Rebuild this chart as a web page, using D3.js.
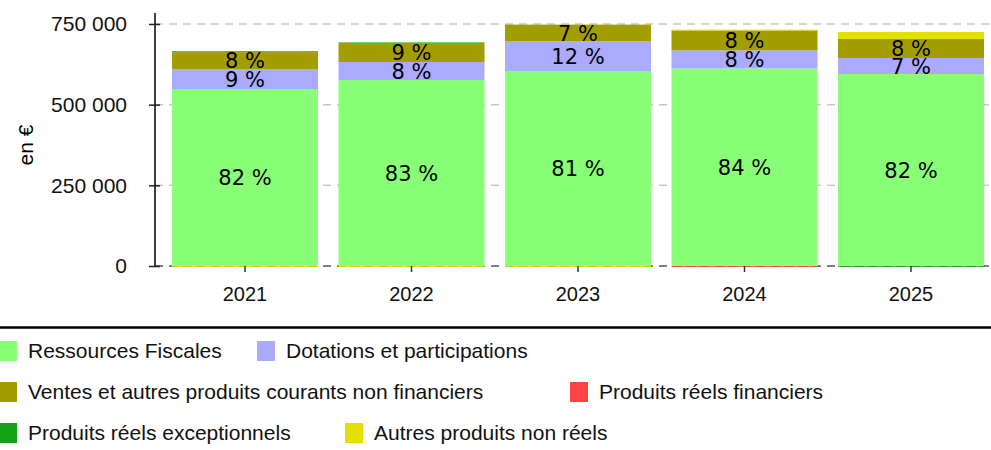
<!DOCTYPE html>
<html>
<meta charset="utf-8">
<head>
  <script src="https://d3js.org/d3.v7.min.js"></script>
</head>
<style>
  body {
    margin: 0;
    background-color: white;
    font-family: 'Liberation Sans', Arial, sans-serif;
  }
  .pct {
    font-family: 'DejaVu Sans', sans-serif;
    font-size: 21px;
  }
</style>
<body>
<script>
  // data
  var years = ["2021", "2022", "2023", "2024", "2025"];
  var series = ["Ressources Fiscales", "Dotations et participations",
    "Ventes et autres produits courants non financiers", "Produits réels financiers",
    "Produits réels exceptionnels", "Autres produits non réels"];
  var colors = ["#88ff77", "#aaaaff", "#a39e00", "#ff4444", "#14a314", "#e3e000"];

  var fiscales    = [548500, 576500, 604000, 612000, 595000];
  var dotations   = [62000, 55500, 92000, 56000, 49500];
  var ventes      = [52000, 59500, 52000, 62000, 59000];
  var financiers  = [0, 0, 0, -2500, 0];
  var exception   = [3000, 1500, 0, 0, -2500];
  var nonReels    = [-2500, -2500, -2500, 2500, 21500];
  var yTicks = [0, 250000, 500000, 750000];

  var all = [fiscales, dotations, ventes, financiers, exception, nonReels];
  var rows = years.map(function(y, i) {
    var r = {year: y};
    series.forEach(function(s, j) { r[s] = all[j][i]; });
    r.total = d3.sum(all, function(a) { return Math.max(0, a[i]); });
    return r;
  });

  var w = 991, h = 450;
  var svg = d3.select("body").append("svg")
    .attr("width", w)
    .attr("height", h);

  var x = d3.scaleBand().domain(years).range([162, 994])
    .paddingInner(0.123).paddingOuter(0.06);
  var y = d3.scaleLinear().domain([0, 784000]).range([266, 13]);

  // grid
  svg.selectAll("line.grid")
    .data(yTicks)
    .enter().append("line")
    .attr("x1", 155).attr("x2", w)
    .attr("y1", function(d) { return y(d); })
    .attr("y2", function(d) { return y(d); })
    .attr("stroke", function(d) { return d == 0 ? "#555" : "#c8c8c8"; })
    .attr("stroke-width", 1.5)
    .attr("stroke-dasharray", "8,6");

  var stack = d3.stack().keys(series).offset(d3.stackOffsetDiverging);
  var layers = stack(rows);

  var g = svg.selectAll("g.layer")
    .data(layers)
    .enter().append("g")
    .attr("fill", function(d, i) { return colors[i]; });

  g.selectAll("rect")
    .data(function(d) { return d; })
    .enter().append("rect")
    .attr("x", function(d) { return x(d.data.year); })
    .attr("width", x.bandwidth())
    .attr("y", function(d) { return y(Math.max(d[0], d[1])); })
    .attr("height", function(d) { return Math.abs(y(d[0]) - y(d[1])); });

  // percent labels
  layers.forEach(function(layer) {
    layer.forEach(function(d) {
      var v = d[1] - d[0];
      var p = v / d.data.total * 100;
      if (p < 5) return;
      svg.append("text")
        .attr("class", "pct")
        .attr("x", x(d.data.year) + x.bandwidth() / 2)
        .attr("y", y((d[0] + d[1]) / 2))
        .attr("dy", "0.36em")
        .attr("text-anchor", "middle")
        .text(Math.round(p) + " %");
    });
  });

  // y axis
  var fmt = function(d) { return d3.format(",")(d).replace(/,/g, " "); };
  var yAxis = svg.append("g")
    .attr("transform", "translate(155,0)")
    .call(d3.axisLeft(y).tickValues(yTicks).tickFormat(fmt).tickSize(6).tickPadding(22));
  yAxis.select(".domain").attr("stroke", "#000").attr("stroke-width", 1.5)
    .attr("d", "M0," + y.range()[1] + "V" + y.range()[0]);
  yAxis.selectAll(".tick line").attr("x2", 5).attr("x1", -6).attr("stroke", "#222").attr("stroke-width", 1.5);
  yAxis.selectAll("text").attr("font-size", 21).attr("font-family", "'Liberation Sans', Arial, sans-serif").attr("fill", "#111");

  svg.append("text")
    .attr("transform", "translate(33,145) rotate(-90)")
    .attr("text-anchor", "middle")
    .attr("font-size", 21)
    .text("en €");

  // x axis
  var xAxis = svg.append("g")
    .attr("transform", "translate(0,266)")
    .call(d3.axisBottom(x).tickSize(6).tickPadding(15));
  xAxis.select(".domain").remove();
  xAxis.selectAll(".tick line").attr("stroke", "#333").attr("stroke-width", 1.5);
  xAxis.selectAll("text").attr("font-size", 20).attr("font-family", "'Liberation Sans', Arial, sans-serif").attr("fill", "#111");

  // legend
  svg.append("line")
    .attr("x1", 0).attr("x2", w)
    .attr("y1", 327.5).attr("y2", 327.5)
    .attr("stroke", "#000").attr("stroke-width", 2.5);

  var legendPos = [[-1, 351], [257, 351], [-1, 392], [570, 392], [-1, 433], [345, 433]];
  var leg = svg.selectAll("g.legend")
    .data(series)
    .enter().append("g")
    .attr("transform", function(d, i) { return "translate(" + legendPos[i][0] + "," + legendPos[i][1] + ")"; });
  leg.append("rect")
    .attr("y", -10).attr("width", 18).attr("height", 20)
    .attr("fill", function(d, i) { return colors[i]; });
  leg.append("text")
    .attr("x", 29).attr("y", 7)
    .attr("font-size", 21)
    .attr("fill", "#111")
    .text(function(d) { return d; });
</script>
</body>
</html>
